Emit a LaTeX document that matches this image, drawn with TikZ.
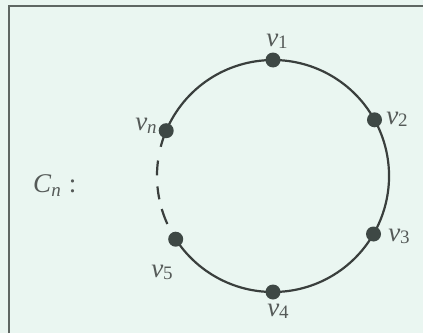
\documentclass[tikz,border=0pt]{standalone}
\usepackage{fontspec}
\setmainfont{Liberation Serif}
\usetikzlibrary{backgrounds}
\definecolor{bgcol}{HTML}{EAF6F1}
\definecolor{framecol}{HTML}{5F6763}
\definecolor{linecol}{HTML}{3A3F3D}
\definecolor{dotcol}{HTML}{3E4845}
\definecolor{labcol}{HTML}{555A58}
\newcommand\subsz{\fontsize{19}{19}\selectfont}
\newcommand\vlab[1]{\textit{v}\raisebox{-2pt}{\subsz #1}}
\begin{document}
\begin{tikzpicture}[x=1pt,y=1pt,
  vdot/.style={circle, fill=dotcol, inner sep=0pt, minimum size=15pt},
  lab/.style={text=labcol, inner sep=0pt, font=\fontsize{27}{27}\selectfont},
  edgeline/.style={draw=linecol, line width=2.2pt},
  frameline/.style={draw=framecol, line width=2pt},
]
\useasboundingbox (0,0) rectangle (423,333);
% vertices
\node[vdot] (v1) at (273,273) {};
\node[vdot] (v2) at (374.5,213.2) {};
\node[vdot] (v3) at (373.5,99) {};
\node[vdot] (v4) at (273,41) {};
\node[vdot] (v5) at (175.7,93.8) {};
\node[vdot] (vn) at (166.2,202.3) {};
\begin{scope}[on background layer]
  \fill[bgcol] (0,0) rectangle (423,333);
  \coordinate (fbl) at (9,0);
  \coordinate (ftl) at (9,327);
  \coordinate (ftr) at (423,327);
  \draw[frameline] (fbl) -- (ftl) -- (ftr);
  \draw[edgeline] (v1.center) arc[start angle=90, end angle=29, radius=116];
  \draw[edgeline] (v2.center) arc[start angle=29, end angle=-30, radius=116];
  \draw[edgeline] (v3.center) arc[start angle=-30, end angle=-90, radius=116];
  \draw[edgeline] (v4.center) arc[start angle=-90, end angle=-147, radius=116];
  \draw[edgeline] (vn.center) arc[start angle=157, end angle=90, radius=116];
  \draw[edgeline, dash pattern=on 17pt off 14pt on 15pt off 11pt on 13pt off 10pt on 16pt off 30pt]
    (vn.center) arc[start angle=157, end angle=213, radius=116];
\end{scope}
% labels
\node[lab] (l1) at (277,292) {\vlab{1}};
\node[lab] (l2) at (397,214) {\vlab{2}};
\node[lab] (l3) at (399,97) {\vlab{3}};
\node[lab] (l4) at (278,22) {\vlab{4}};
\node[lab] (l5) at (162,61) {\vlab{5}};
\node[lab] (ln) at (146,207) {\textit{v}\raisebox{-3pt}{\subsz\itshape n}};
\node[lab, anchor=west] (cn) at (33,147) {\textit{C}\raisebox{-4pt}{\subsz\itshape n}\hspace{8pt}:};
\end{tikzpicture}
\end{document}
